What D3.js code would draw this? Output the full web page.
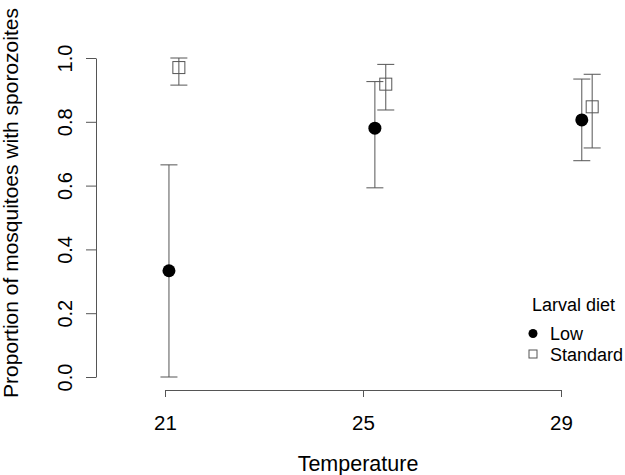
<!DOCTYPE html>
<html>
<head>
<meta charset="utf-8">
<script src="https://cdn.jsdelivr.net/npm/d3@7"></script>
<style>
  body { margin: 0; background: #fff; }
  text { font-family: "Liberation Sans", Arial, sans-serif; fill: #000; }
</style>
</head>
<body>
<div id="chart"></div>
<script>
// temperatures on the axis
const temps = [21, 25, 29];

// plotted x (temperature units, dodged as in the picture)
const lowX = [21.08, 25.24, 29.42];
const stdX = [21.28, 25.46, 29.63];

// Low larval diet: proportion and interval
const lowMean = [0.333, 0.780, 0.806];
const lowLo = [0.000, 0.593, 0.678];
const lowHi = [0.665, 0.926, 0.934];

// Standard larval diet
const stdMean = [0.970, 0.918, 0.847];
const stdLo = [0.915, 0.837, 0.718];
const stdHi = [1.000, 0.980, 0.949];

const yTicks = [0, 0.2, 0.4, 0.6, 0.8, 1.0];

const width = 625, height = 475;
const lineCol = "#555";

const svg = d3.select("#chart").append("svg")
    .attr("width", width)
    .attr("height", height);

const x = d3.scaleLinear().domain([21, 29]).range([165, 561]);
const y = d3.scaleLinear().domain([0, 1]).range([377, 58]);

// x axis
const gx = svg.append("g")
    .attr("transform", "translate(0,390)")
    .call(d3.axisBottom(x).tickValues(temps).tickSize(7).tickSizeOuter(0).tickFormat(d3.format("d")));
gx.selectAll("path, line").attr("stroke", lineCol);
gx.selectAll("text")
    .attr("font-size", 20.5)
    .attr("font-family", "Liberation Sans, Arial, sans-serif")
    .attr("fill", "#000")
    .attr("dy", 0).attr("y", 40);

// y axis
const gy = svg.append("g")
    .attr("transform", "translate(96,0)")
    .call(d3.axisLeft(y).tickValues(yTicks).tickSize(10).tickSizeOuter(0).tickFormat(d3.format(".1f")));
gy.selectAll("path, line").attr("stroke", lineCol);
gy.selectAll("text")
    .attr("font-size", 20)
    .attr("font-family", "Liberation Sans, Arial, sans-serif")
    .attr("fill", "#000")
    .attr("text-anchor", "middle")
    .attr("x", 0).attr("y", -24).attr("dy", 0)
    .attr("transform", "rotate(-90)");

// axis titles
svg.append("text")
    .attr("x", 358).attr("y", 471)
    .attr("text-anchor", "middle")
    .attr("font-size", 21.5)
    .text("Temperature");

svg.append("text")
    .attr("transform", "translate(18,203) rotate(-90)")
    .attr("text-anchor", "middle")
    .attr("font-size", 21)
    .text("Proportion of mosquitoes with sporozoites");

// error bars
function bars(xs, lo, hi) {
  const g = svg.append("g").attr("stroke", lineCol).attr("stroke-width", 1);
  const cap = 8.5;
  xs.forEach((v, i) => {
    g.append("line").attr("x1", x(v)).attr("x2", x(v)).attr("y1", y(lo[i])).attr("y2", y(hi[i]));
    g.append("line").attr("x1", x(v) - cap).attr("x2", x(v) + cap).attr("y1", y(lo[i])).attr("y2", y(lo[i]));
    g.append("line").attr("x1", x(v) - cap).attr("x2", x(v) + cap).attr("y1", y(hi[i])).attr("y2", y(hi[i]));
  });
}
bars(lowX, lowLo, lowHi);
bars(stdX, stdLo, stdHi);

// points
svg.append("g").selectAll("circle")
    .data(lowMean)
    .join("circle")
    .attr("cx", (d, i) => x(lowX[i]))
    .attr("cy", d => y(d))
    .attr("r", 6.5)
    .attr("fill", "#000");

const sq = 12;
svg.append("g").selectAll("rect")
    .data(stdMean)
    .join("rect")
    .attr("x", (d, i) => x(stdX[i]) - sq / 2)
    .attr("y", d => y(d) - sq / 2)
    .attr("width", sq).attr("height", sq)
    .attr("fill", "none")
    .attr("stroke", lineCol);

// legend
const lg = svg.append("g");
lg.append("text").attr("x", 532).attr("y", 311).attr("font-size", 18).text("Larval diet");
lg.append("circle").attr("cx", 533).attr("cy", 333.5).attr("r", 4.5).attr("fill", "#000");
lg.append("text").attr("x", 550).attr("y", 340).attr("font-size", 18).text("Low");
lg.append("rect").attr("x", 529).attr("y", 350).attr("width", 8).attr("height", 8)
    .attr("fill", "none").attr("stroke", lineCol);
lg.append("text").attr("x", 550).attr("y", 360.5).attr("font-size", 18).text("Standard");
</script>
</body>
</html>
